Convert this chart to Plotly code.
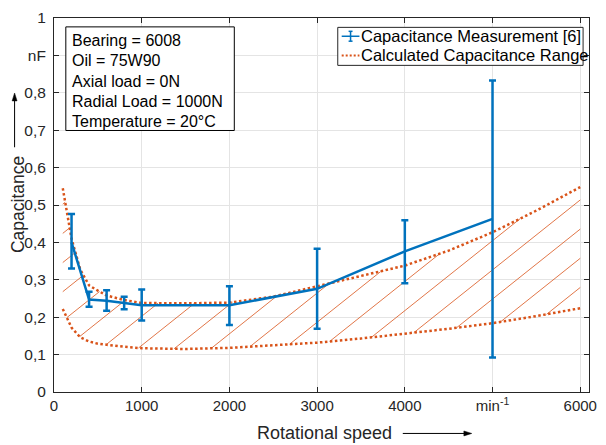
import numpy as np
import plotly.graph_objects as go

# Measured capacitance (mean with min/max spread) versus rotational speed
speed = [200, 400, 600, 800, 1000, 2000, 3000, 4000, 5000]
cap_mean = [0.400, 0.247, 0.244, 0.239, 0.232, 0.232, 0.276, 0.376, 0.463]
cap_high = [0.476, 0.268, 0.272, 0.255, 0.274, 0.283, 0.383, 0.459, 0.833]
cap_low = [0.330, 0.228, 0.217, 0.221, 0.191, 0.179, 0.169, 0.291, 0.092]

# Calculated capacitance range (upper and lower bound)
range_speed = [100, 200, 300, 400, 500, 600, 800, 1000, 1500, 2000,
               2500, 3000, 3500, 4000, 4500, 5000, 5500, 6000]
range_upper = [0.545, 0.410, 0.327, 0.285, 0.271, 0.258, 0.246, 0.238, 0.237, 0.239,
               0.255, 0.283, 0.309, 0.338, 0.378, 0.427, 0.485, 0.548]
range_lower = [0.222, 0.172, 0.146, 0.135, 0.129, 0.126, 0.121, 0.117, 0.115, 0.118,
               0.125, 0.132, 0.143, 0.156, 0.169, 0.184, 0.203, 0.224]

x_ticks = [0, 1000, 2000, 3000, 4000, 5000, 6000]
x_ticklabels = ["0", "1000", "2000", "3000", "4000", "min<sup>-1</sup>", "6000"]
y_ticks = [0, 0.1, 0.2, 0.3, 0.4, 0.5, 0.6, 0.7, 0.8, 0.9, 1.0]
y_ticklabels = ["0", "0,1", "0,2", "0,3", "0,4", "0,5", "0,6", "0,7", "0,8", "nF", "1"]

info_lines = ["Bearing = 6008", "Oil = 75W90", "Axial load = 0N",
              "Radial Load = 1000N", "Temperature = 20°C"]

BLUE = "#0072BD"
ORANGE = "#D95319"
AXIS = "#262626"
FONT = "Liberation Sans, Arial, Helvetica, sans-serif"

W, H = 606, 445
ML, MR, MT, MB = 54, 9, 13, 53
PW, PH = W - ML - MR, H - MT - MB


def px_x(px):
    return (px - ML) / PW


def px_y(py):
    return (H - MB - py) / PH


def paper_path(points):
    return "M " + " L ".join(f"{px_x(a):.5f},{px_y(b):.5f}" for a, b in points) + " Z"


# Hatching of the calculated range: parallel lines clipped between the bounds
hatch_slope = 1.87e-4
hatch_step = 0.078
hatch_phase = 0.0155
xs = np.linspace(range_speed[0], range_speed[-1], 12000)
lo = np.interp(xs, range_speed, range_lower)
hi = np.interp(xs, range_speed, range_upper)
hx, hy = [], []
for k in range(-16, 10):
    c = hatch_phase + k * hatch_step
    yl = hatch_slope * xs + c
    inside = (yl >= lo) & (yl <= hi)
    if not inside.any():
        continue
    idx = np.flatnonzero(inside)
    breaks = np.flatnonzero(np.diff(idx) > 1)
    starts = np.concatenate(([idx[0]], idx[breaks + 1]))
    ends = np.concatenate((idx[breaks], [idx[-1]]))
    for s, e in zip(starts, ends):
        hx += [xs[s], xs[e], None]
        hy += [yl[s], yl[e], None]

fig = go.Figure()
fig.add_trace(go.Scatter(x=hx, y=hy, mode="lines",
                         line=dict(color=ORANGE, width=0.8),
                         hoverinfo="skip", showlegend=False))
fig.add_trace(go.Scatter(x=range_speed, y=range_upper, mode="lines",
                         line=dict(color=ORANGE, width=2.5, dash="2.5px,2.5px"),
                         name="Calculated Capacitance Range", showlegend=False))
fig.add_trace(go.Scatter(x=range_speed, y=range_lower, mode="lines",
                         line=dict(color=ORANGE, width=2.5, dash="2.5px,2.5px"),
                         showlegend=False))

err_plus = [h - m for h, m in zip(cap_high, cap_mean)]
err_minus = [m - l for m, l in zip(cap_mean, cap_low)]
fig.add_trace(go.Scatter(
    x=speed, y=cap_mean, mode="lines",
    line=dict(color=BLUE, width=2.5),
    error_y=dict(type="data", symmetric=False, array=err_plus,
                 arrayminus=err_minus, color=BLUE, thickness=2.5, width=3.5),
    name="Capacitance Measurement [6]", showlegend=False))

shapes = []
annotations = []

# Info box
shapes.append(dict(type="rect", xref="paper", yref="paper",
                   x0=px_x(66), x1=px_x(237), y0=px_y(127), y1=px_y(22),
                   line=dict(color="black", width=1), fillcolor="white",
                   layer="above"))
for i, t in enumerate(info_lines):
    annotations.append(dict(text=t, xref="paper", yref="paper",
                            x=px_x(70), y=px_y(36 + 20.5 * i),
                            xanchor="left", yanchor="middle", showarrow=False,
                            font=dict(family=FONT, size=16, color="black")))

# Legend box
shapes.append(dict(type="rect", xref="paper", yref="paper",
                   x0=px_x(342), x1=px_x(591), y0=px_y(61), y1=px_y(22.5),
                   line=dict(color=AXIS, width=1), fillcolor="white",
                   layer="above"))
legend_rows = [("Capacitance Measurement [6]", 31.5), ("Calculated Capacitance Range", 51)]
# measurement sample: line with error glyph
ly = legend_rows[0][1]
shapes.append(dict(type="line", xref="paper", yref="paper",
                   x0=px_x(346), x1=px_x(364), y0=px_y(ly), y1=px_y(ly),
                   line=dict(color=BLUE, width=1.5), layer="above"))
shapes.append(dict(type="line", xref="paper", yref="paper",
                   x0=px_x(355), x1=px_x(355), y0=px_y(ly - 5), y1=px_y(ly + 5),
                   line=dict(color=BLUE, width=1.5), layer="above"))
for dy in (-5, 5):
    shapes.append(dict(type="line", xref="paper", yref="paper",
                       x0=px_x(353), x1=px_x(357), y0=px_y(ly + dy), y1=px_y(ly + dy),
                       line=dict(color=BLUE, width=1.5), layer="above"))
ly2 = legend_rows[1][1]
shapes.append(dict(type="line", xref="paper", yref="paper",
                   x0=px_x(346), x1=px_x(364), y0=px_y(ly2), y1=px_y(ly2),
                   line=dict(color=ORANGE, width=2, dash="2px,2px"), layer="above"))
for t, yy in legend_rows:
    annotations.append(dict(text=t, xref="paper", yref="paper",
                            x=px_x(364), y=px_y(yy),
                            xanchor="left", yanchor="middle", showarrow=False,
                            font=dict(family=FONT, size=16.5, color="black")))

# Axis titles with arrows
annotations.append(dict(text="Capacitance", xref="paper", yref="paper",
                        x=px_x(17), y=px_y(202), textangle=-90,
                        xanchor="center", yanchor="middle", showarrow=False,
                        font=dict(family=FONT, size=17.5, color=AXIS)))
annotations.append(dict(text="Rotational speed", xref="paper", yref="paper",
                        x=px_x(329), y=px_y(434),
                        xanchor="center", yanchor="middle", showarrow=False,
                        font=dict(family=FONT, size=18, color=AXIS)))

# upward arrow next to the y title
shapes.append(dict(type="line", xref="paper", yref="paper",
                   x0=px_x(14), x1=px_x(14), y0=px_y(144), y1=px_y(95),
                   line=dict(color="black", width=1), layer="above"))
shapes.append(dict(type="path", xref="paper", yref="paper",
                   path=paper_path([(14, 89), (11.5, 97), (16.5, 97)]),
                   fillcolor="black", line=dict(color="black", width=0.5),
                   layer="above"))
# rightward arrow next to the x title
shapes.append(dict(type="line", xref="paper", yref="paper",
                   x0=px_x(408), x1=px_x(472), y0=px_y(434), y1=px_y(434),
                   line=dict(color="black", width=1), layer="above"))
shapes.append(dict(type="path", xref="paper", yref="paper",
                   path=paper_path([(478, 434), (470, 431.5), (470, 436.5)]),
                   fillcolor="black", line=dict(color="black", width=0.5),
                   layer="above"))

axis_common = dict(showline=True, linecolor=AXIS, linewidth=1, mirror="ticks",
                   ticks="inside", ticklen=5, tickcolor=AXIS, tickwidth=1,
                   showgrid=True, gridcolor="#e4e4e4", gridwidth=1,
                   zeroline=False)

fig.update_layout(
    width=W, height=H,
    margin=dict(l=ML, r=MR, t=MT, b=MB),
    paper_bgcolor="white", plot_bgcolor="white",
    showlegend=False,
    xaxis=dict(range=[0, 6100], tickvals=x_ticks, ticktext=x_ticklabels,
               tickfont=dict(family=FONT, size=15, color=AXIS), **axis_common),
    yaxis=dict(range=[0, 1], tickvals=y_ticks, ticktext=y_ticklabels,
               ticklabelstandoff=4,
               tickfont=dict(family=FONT, size=15.5, color=AXIS), **axis_common),
    shapes=shapes,
    annotations=annotations,
)

fig.write_html("out.html")
